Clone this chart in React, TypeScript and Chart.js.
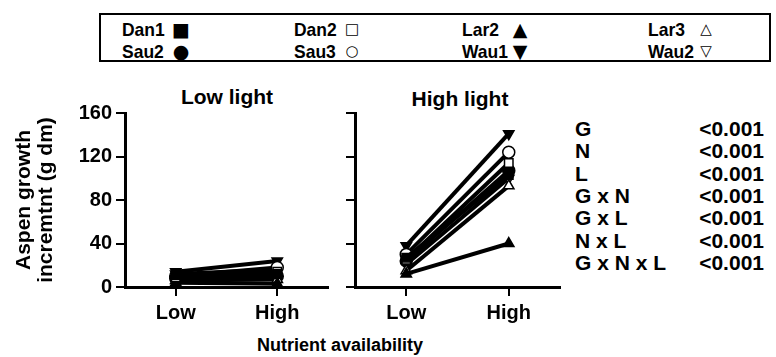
import React, { useEffect, useRef } from 'react';
import { Chart, registerables } from 'chart.js';

Chart.register(...registerables);

// ---------- data ----------
const categories = ['Low', 'High'];
const genotypes = ['Dan1', 'Dan2', 'Lar2', 'Lar3', 'Sau2', 'Sau3', 'Wau1', 'Wau2'];

// Low light panel (growth at Low, High nutrient)
const lowDan1 = [11, 12];
const lowDan2 = [9, 14];
const lowLar2 = [4, 3];
const lowLar3 = [6, 7];
const lowSau2 = [8, 10];
const lowSau3 = [10, 18];
const lowWau1 = [14, 24];
const lowWau2 = [12, 16];

// High light panel
const highDan1 = [27, 103];
const highDan2 = [25, 114];
const highLar2 = [12, 40];
const highLar3 = [15, 93];
const highSau2 = [24, 107];
const highSau3 = [30, 124];
const highWau1 = [38, 141];
const highWau2 = [21, 100];

const yMin = 0;
const yMax = 160;
const yStep = 20;
const yLabelStep = 40;

const statTerms = ['G', 'N', 'L', 'G x N', 'G x L', 'N x L', 'G x N x L'];
const statValues = ['<0.001', '<0.001', '<0.001', '<0.001', '<0.001', '<0.001', '<0.001'];

const legendRow1 = ['Dan1', 'Dan2', 'Lar2', 'Lar3'];
const legendRow2 = ['Sau2', 'Sau3', 'Wau1', 'Wau2'];

// ---------- styles ----------
const FONT = "'Liberation Sans', Arial, Helvetica, sans-serif";
const markerStyle: Record<string, { style: any; fill: string; rotation: number; glyph: string }> = {
  Dan1: { style: 'rect', fill: '#000', rotation: 0, glyph: '\u25A0' },
  Dan2: { style: 'rect', fill: '#fff', rotation: 0, glyph: '\u25A1' },
  Lar2: { style: 'triangle', fill: '#000', rotation: 0, glyph: '\u25B2' },
  Lar3: { style: 'triangle', fill: '#fff', rotation: 0, glyph: '\u25B3' },
  Sau2: { style: 'circle', fill: '#000', rotation: 0, glyph: '\u25CF' },
  Sau3: { style: 'circle', fill: '#fff', rotation: 0, glyph: '\u25CB' },
  Wau1: { style: 'triangle', fill: '#000', rotation: 180, glyph: '\u25BC' },
  Wau2: { style: 'triangle', fill: '#fff', rotation: 180, glyph: '\u25BD' },
};

const lowSeries = [lowDan1, lowDan2, lowLar2, lowLar3, lowSau2, lowSau3, lowWau1, lowWau2];
const highSeries = [highDan1, highDan2, highLar2, highLar3, highSau2, highSau3, highWau1, highWau2];

function makeDatasets(series: number[][]) {
  return genotypes.map((g, i) => ({
    label: g,
    data: series[i],
    borderColor: '#000',
    borderWidth: 4,
    backgroundColor: markerStyle[g].fill,
    pointBackgroundColor: markerStyle[g].fill,
    pointBorderColor: '#000',
    pointBorderWidth: 1.5,
    pointStyle: markerStyle[g].style,
    pointRotation: markerStyle[g].rotation,
    pointRadius: 6,
    tension: 0,
    clip: false as any,
  }));
}

function Panel(props: {
  series: number[][];
  width: number;
  height: number;
  yWidth: number;
  xHeight: number;
  padRight: number;
  padTop: number;
  showY: boolean;
}) {
  const ref = useRef<HTMLCanvasElement | null>(null);
  useEffect(() => {
    if (!ref.current) return;
    const tickFont = { family: FONT, size: 20, weight: 'bold' as const };
    const chart = new Chart(ref.current, {
      type: 'line',
      data: { labels: categories, datasets: makeDatasets(props.series) as any },
      options: {
        responsive: false,
        animation: false,
        events: [],
        layout: { padding: { top: props.padTop, right: props.padRight, left: 0, bottom: 0 } },
        plugins: { legend: { display: false }, tooltip: { enabled: false }, title: { display: false } },
        scales: {
          x: {
            type: 'category',
            offset: true,
            grid: {
              offset: false,
              drawOnChartArea: false,
              drawTicks: true,
              tickLength: 9,
              lineWidth: 2,
              color: '#000',
            },
            border: { display: true, color: '#000', width: 3 },
            ticks: { color: '#000', font: tickFont, padding: 5, maxRotation: 0 },
            afterFit: (s: any) => {
              s.height = props.xHeight;
            },
          },
          y: {
            min: yMin,
            max: yMax,
            grid: {
              drawOnChartArea: false,
              drawTicks: true,
              tickLength: 9,
              lineWidth: 2,
              color: '#000',
            },
            border: { display: true, color: '#000', width: 3 },
            ticks: {
              stepSize: yStep,
              color: '#000',
              font: tickFont,
              padding: 4,
              callback: (v: any) => (props.showY && Number(v) % yLabelStep === 0 ? String(v) : ''),
            },
            title: {
              display: props.showY,
              text: ['Aspen growth', 'incremtnt (g dm)'],
              color: '#000',
              font: { family: FONT, size: 21, weight: 'bold', lineHeight: 1.05 },
              padding: { top: 13, bottom: 0 },
            },
            afterFit: (s: any) => {
              s.width = props.yWidth;
            },
          },
        },
      },
    });
    return () => chart.destroy();
  }, []);
  return <canvas ref={ref} width={props.width} height={props.height} style={{ width: props.width, height: props.height, display: 'block' }} />;
}

const textBase: React.CSSProperties = {
  position: 'absolute',
  fontFamily: FONT,
  fontWeight: 'bold',
  color: '#000',
  whiteSpace: 'nowrap',
  lineHeight: 1,
};

export default function App() {
  const legendCols = [122, 294, 462, 648];
  const markerCols = [181, 352, 520, 706];
  const rowY = [29, 51];
  return (
    <div style={{ position: 'fixed', left: 0, top: 0, width: 776, height: 357, background: '#fff', overflow: 'hidden' }}>
      {/* legend box */}
      <div
        style={{
          position: 'absolute',
          left: 99,
          top: 13,
          width: 672,
          height: 49,
          border: '2px solid #000',
          boxSizing: 'border-box',
        }}
      />
      {[legendRow1, legendRow2].map((row, ri) =>
        row.map((g, ci) => (
          <React.Fragment key={g}>
            <div
              style={{
                ...textBase,
                fontSize: 19,
                left: legendCols[ci],
                top: rowY[ri],
                transform: 'translateY(-50%) scaleX(0.92)',
                transformOrigin: 'left center',
              }}
            >
              {g}
            </div>
            <div
              style={{
                ...textBase,
                fontFamily: "'DejaVu Sans', sans-serif",
                fontWeight: 'normal',
                fontSize: markerStyle[g].fill === '#000' ? 19 : 15,
                left: markerCols[ci],
                top: rowY[ri],
                transform: 'translate(-50%, -50%)',
              }}
            >
              {markerStyle[g].glyph}
            </div>
          </React.Fragment>
        ))
      )}

      {/* panel titles */}
      <div style={{ ...textBase, fontSize: 21, left: 227, top: 96, transform: 'translate(-50%, -50%)' }}>Low light</div>
      <div style={{ ...textBase, fontSize: 21, left: 460, top: 98, transform: 'translate(-50%, -50%)' }}>High light</div>

      {/* charts */}
      <div style={{ position: 'absolute', left: 0, top: 80 }}>
        <Panel series={lowSeries} width={340} height={250} yWidth={125} xHeight={43} padRight={12} padTop={33} showY={true} />
      </div>
      <div style={{ position: 'absolute', left: 340, top: 80 }}>
        <Panel series={highSeries} width={230} height={250} yWidth={15} xHeight={43} padRight={10} padTop={33} showY={false} />
      </div>

      {/* x axis title */}
      <div style={{ ...textBase, fontSize: 18, left: 340, top: 345, transform: 'translate(-50%, -50%)' }}>Nutrient availability</div>

      {/* statistics */}
      {statTerms.map((t, i) => (
        <React.Fragment key={t}>
          <div style={{ ...textBase, fontSize: 21, left: 575, top: 128 + i * 22.3, transform: 'translateY(-50%)' }}>{t}</div>
          <div style={{ ...textBase, fontSize: 21, right: 776 - 764, top: 128 + i * 22.3, transform: 'translateY(-50%)' }}>{statValues[i]}</div>
        </React.Fragment>
      ))}
    </div>
  );
}
